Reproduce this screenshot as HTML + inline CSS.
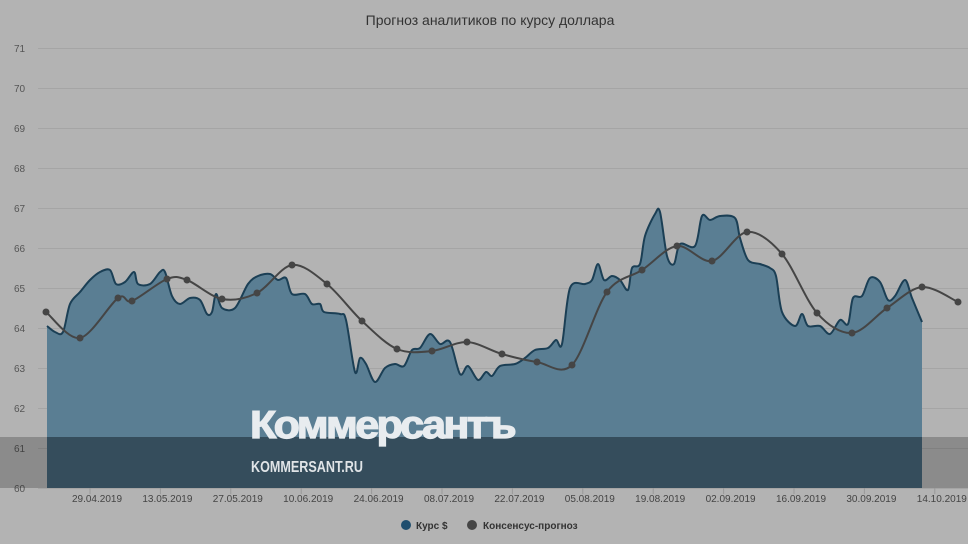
<!DOCTYPE html>
<html><head><meta charset="utf-8"><style>
html,body{margin:0;padding:0;background:#b3b3b3;}
body{width:968px;height:544px;overflow:hidden;position:relative;font-family:"Liberation Sans",sans-serif;}
svg{position:absolute;left:0;top:0;}
</style></head><body>
<svg id="s" width="968" height="544" xmlns="http://www.w3.org/2000/svg">
<rect width="968" height="544" fill="#b3b3b3"/>
<text x="490" y="25" text-anchor="middle" font-size="14" fill="#333" font-family="Liberation Sans, sans-serif">Прогноз аналитиков по курсу доллара</text>
<g id="grid" stroke="#a5a5a5" stroke-width="1"></g>
<g id="ylab" font-size="10" fill="#555" font-family="Liberation Sans, sans-serif"></g>
<path id="area" fill="#5a7e93" stroke="none"/>
<path id="line" fill="none" stroke="#1b3f55" stroke-width="2"/>
<path id="cons" fill="none" stroke="#454545" stroke-width="2"/>
<g id="dots" fill="#454545"></g>
<rect x="0" y="437" width="968" height="51" fill="#000" opacity="0.22"/>
<rect x="47" y="437" width="875" height="51" fill="#1a2a35" opacity="0.36"/>
<text x="250" y="438" font-size="39" font-weight="bold" fill="#e8ecef" stroke="#e8ecef" stroke-width="1.2" font-family="Liberation Sans, sans-serif" letter-spacing="-2.4" textLength="264" lengthAdjust="spacingAndGlyphs">Коммерсантъ</text>
<text x="251" y="472" font-size="16" font-weight="bold" fill="#e0e4e7" font-family="Liberation Sans Narrow, Liberation Sans, sans-serif" textLength="112" lengthAdjust="spacingAndGlyphs">KOMMERSANT.RU</text>
<g id="xlab" font-size="10" fill="#444" font-family="Liberation Sans, sans-serif" text-anchor="middle"></g>
<circle cx="406" cy="525" r="5" fill="#1f4e6e"/>
<text x="416" y="529" font-size="10" font-weight="bold" fill="#333">Курс $</text>
<circle cx="472" cy="525" r="5" fill="#454545"/>
<text x="483" y="529" font-size="10" font-weight="bold" fill="#333">Консенсус-прогноз</text>
</svg>
<script>
var NS="http://www.w3.org/2000/svg";
function el(t,a,p,txt){var e=document.createElementNS(NS,t);for(var k in a)e.setAttribute(k,a[k]);if(txt)e.textContent=txt;document.getElementById(p).appendChild(e);}
for(var v=60;v<=71;v++){var y=488-(v-60)*40;el("line",{x1:38,x2:968,y1:y+.5,y2:y+.5},"grid");el("text",{x:14,y:y+4},"ylab",String(v));}
var d=["29.04.2019","13.05.2019","27.05.2019","10.06.2019","24.06.2019","08.07.2019","22.07.2019","05.08.2019","19.08.2019","02.09.2019","16.09.2019","30.09.2019","14.10.2019"];
d.forEach(function(s,i){var x=90+i*70.4;el("line",{x1:x,x2:x,y1:488,y2:494,stroke:"#999"},"grid");el("text",{x:x+7,y:502},"xlab",s);});
var P=[[47,64.05],[55,63.9],[63,63.9],[70,64.6],[80,64.9],[90,65.2],[100,65.4],[110,65.45],[116,65.1],[125,65.15],[134,65.4],[138,65.1],[150,65.1],[160,65.4],[165,65.4],[172,64.8],[180,64.6],[190,64.75],[200,64.7],[207,64.35],[212,64.4],[216,64.85],[222,64.5],[235,64.5],[248,65.1],[258,65.3],[270,65.35],[278,65.2],[286,65.25],[292,64.85],[305,64.85],[312,64.6],[320,64.6],[324,64.4],[340,64.35],[346,64.2],[355,62.9],[360,63.25],[366,63.1],[375,62.65],[385,63.0],[395,63.1],[404,63.05],[412,63.45],[420,63.5],[430,63.85],[440,63.6],[450,63.65],[460,62.85],[468,63.05],[478,62.7],[486,62.9],[492,62.8],[500,63.05],[515,63.1],[525,63.25],[535,63.45],[548,63.5],[556,63.7],[562,63.6],[570,65.0],[585,65.1],[592,65.2],[598,65.6],[604,65.2],[612,65.3],[620,65.2],[628,64.95],[632,65.5],[640,65.6],[645,66.3],[655,66.85],[660,66.9],[667,65.8],[674,65.6],[680,66.1],[695,66.05],[702,66.8],[710,66.7],[720,66.8],[735,66.75],[740,66.25],[748,65.7],[760,65.6],[770,65.5],[776,65.3],[782,64.4],[795,64.05],[802,64.35],[808,64.05],[820,64.05],[830,63.85],[840,64.2],[848,64.1],[853,64.75],[862,64.8],[870,65.25],[880,65.15],[888,64.7],[895,64.8],[905,65.2],[912,64.75],[922,64.15]].map(function(p){return [p[0],488-(p[1]-60)*40];});
var C=[[46,312],[80,338],[118,298],[132,301],[167,279],[187,280],[222,299],[257,293],[292,265],[327,284],[362,321],[397,349],[432,351],[467,342],[502,354],[537,362],[572,365],[607,292],[642,270],[677,246],[712,261],[747,232],[782,254],[817,313],[852,333],[887,308],[922,287],[958,302]];
function smooth(p){var s="M"+p[0][0]+","+p[0][1];for(var i=0;i<p.length-1;i++){var p0=p[i-1]||p[i],p1=p[i],p2=p[i+1],p3=p[i+2]||p2;var t=0.16;s+=" C"+(p1[0]+(p2[0]-p0[0])*t)+","+(p1[1]+(p2[1]-p0[1])*t)+" "+(p2[0]-(p3[0]-p1[0])*t)+","+(p2[1]-(p3[1]-p1[1])*t)+" "+p2[0]+","+p2[1];}return s;}
var ls=smooth(P);
document.getElementById("line").setAttribute("d",ls);
document.getElementById("area").setAttribute("d",ls+" L922,488 L47,488 Z");
document.getElementById("cons").setAttribute("d",smooth(C));
C.forEach(function(c){el("circle",{cx:c[0],cy:c[1],r:3.5},"dots");});
</script>
</body></html>
